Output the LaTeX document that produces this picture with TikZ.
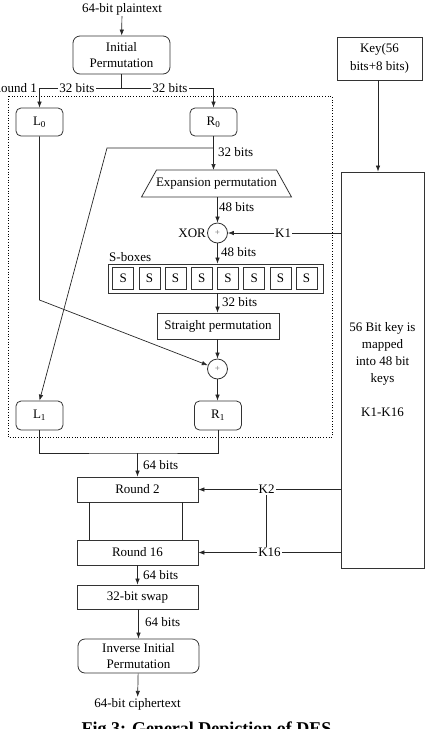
\documentclass[tikz,border=0pt]{standalone}
\usepackage{fontspec}
\setmainfont{Liberation Serif}
\usetikzlibrary{arrows.meta,shapes.geometric}
\begin{document}
\begin{tikzpicture}[x=1pt,y=-1pt,
  every node/.style={font=\fontsize{13}{16}\selectfont, inner sep=1pt},
  ln/.style={line width=0.7pt, draw=black!85},
  arr/.style={ln, -{Latex[length=6pt,width=4.5pt]}},
  rbox/.style={draw=black!80, line width=0.8pt, rounded corners=7pt, align=center, inner sep=0pt},
  sqbox/.style={draw=black!80, line width=0.8pt, align=center, inner sep=0pt},
  lbl/.style={fill=white, inner sep=1pt},
  bitlbl/.style={anchor=west, inner sep=0pt},
  xorc/.style={circle, draw=black!80, line width=0.8pt, minimum size=20pt, inner sep=0pt, font=\fontsize{9}{9}\selectfont, text=black!60},
  ]
\useasboundingbox (0,0) rectangle (429,729);

% top
\node (pt) at (122,9) {64-bit plaintext};
\node[rbox, minimum width=97pt, minimum height=38pt] (ip) at (121.5,55) {Initial\\Permutation};
\node[sqbox, minimum width=85pt, minimum height=43pt, font=\fontsize{13}{18}\selectfont] (key) at (379.5,58.5) {Key(56\\bits+8 bits)};
\draw[arr] (pt) -- (ip);

% round 1 frame
\draw[dotted, line width=0.7pt] (8,96) rectangle (332,437);
\node[anchor=east, inner sep=0pt] (rnd1) at (37,88) {Round 1};

\node[rbox, rounded corners=5pt, minimum width=47pt, minimum height=28pt] (l0) at (39.5,122) {L\textsubscript{0}};
\node[rbox, rounded corners=5pt, minimum width=47pt, minimum height=28pt] (r0) at (213.5,122) {R\textsubscript{0}};
\coordinate (split) at (121.5,88);
\draw[ln] (ip.south) -- (split);
\draw[arr] (split) -| (l0.north);
\draw[arr] (split) -| (r0.north);
\node[lbl] (lb1) at (77,88) {32 bits};
\node[lbl] (lb2) at (170,88) {32 bits};

% right side F-function
\node (exp) at (216.5,183.5) {Expansion permutation};
\draw[draw=black!80, line width=0.8pt] (141.5,197) -- (156.5,170) -- (276.5,170) -- (291.5,197) -- cycle;
\coordinate (exptop) at (213.5,170);
\coordinate (expbot) at (217.5,197);
\draw[arr] (r0.south) -- (exptop);
\node[bitlbl] at (218,152) {32 bits};
\coordinate (tap) at (213.5,148);
\coordinate (bend) at (107,148);

\node[xorc] (x1) at (217.5,233) {+};
\draw[arr] (expbot) -- (x1);
\node[bitlbl] at (219,207) {48 bits};
\node[anchor=east, inner sep=1pt] (xorl) at (x1.west) {XOR};

\node[sqbox, minimum width=215pt, minimum height=29pt] (sb) at (215.5,278.5) {};
\foreach \i in {0,...,7} {
  \node[sqbox, minimum width=21pt, minimum height=22pt] (s\i) at (123.2+26.2*\i,278.5) {S};
}
\node[anchor=base west, inner sep=0pt] (sbl) at (109,261) {S-boxes};
\draw[arr] (x1) -- (x1 |- sb.north);
\node[bitlbl] at (221,252) {48 bits};

\node[sqbox, minimum width=122pt, minimum height=26pt] (sp) at (218,326) {Straight permutation};
\draw[arr] (x1 |- sb.south) -- (x1 |- sp.north);
\node[bitlbl] at (222,302) {32 bits};

\node[xorc] (x2) at (217.5,369) {+};
\draw[arr] (x2 |- sp.south) -- (x2);

\node[rbox, rounded corners=5pt, minimum width=47pt, minimum height=29pt] (l1) at (39.5,415.5) {L\textsubscript{1}};
\node[rbox, rounded corners=5pt, minimum width=47pt, minimum height=29pt] (r1) at (218,415.5) {R\textsubscript{1}};
\draw[arr] (x2) -- (x2 |- r1.north);

\draw[arr] (tap) -- (bend) -- (l1.north);
\coordinate (lbend) at (39.5,300);
\draw[arr] (l0.south) -- (lbend) -- (x2);

% key schedule
\node[sqbox, minimum width=83pt, minimum height=396pt, font=\fontsize{13}{17}\selectfont] (big) at (382.5,370) {56 Bit key is\\mapped\\into 48 bit\\keys\\[17pt]K1-K16};
\coordinate (kx) at (378,0);
\draw[arr] (key.south -| kx) -- (big.north -| kx);
\draw[arr] (big.west |- x1) -- node[lbl, pos=0.51] (k1) {K1} (x1.east);

% merge
\coordinate (m) at (137.5,453);
\draw[ln] (l1.south) |- (m) -| (r1.south);
\node[sqbox, minimum width=121pt, minimum height=25pt] (r2) at (137.5,489.5) {Round 2};
\node[sqbox, minimum width=121pt, minimum height=25pt] (r16) at (137.5,552.5) {Round 16};
\draw[arr] (m) -- (r2.north);
\node[bitlbl] at (143,465) {64 bits};
\draw[ln] ([xshift=-48.5pt]r2.south) -- ([xshift=-48.5pt]r16.north);
\draw[ln] ([xshift=44.5pt]r2.south) -- ([xshift=44.5pt]r16.north);

\draw[arr] (big.west |- r2) -- node[lbl, pos=0.52] (k2) {K2} (r2.east);
\draw[arr] (big.west |- r16) -- node[lbl, pos=0.5] (k16) {K16} (r16.east);
\draw[ln] (k2.south) -- (k2.south |- k16.north);

% output
\node[sqbox, minimum width=121pt, minimum height=24pt] (swap) at (137.5,597) {32-bit swap};
\draw[arr] (r16) -- (swap);
\node[bitlbl] at (143,575) {64 bits};
\node[rbox, minimum width=121pt, minimum height=34pt] (inv) at (138.5,656) {Inverse Initial\\Permutation};
\draw[arr] (swap.south -| inv) -- (inv);
\node[bitlbl] at (145,622) {64 bits};
\node (ct) at (137.5,704) {64-bit ciphertext};
\draw[arr] (inv) -- (ct);

\node[font=\bfseries\fontsize{18}{20}\selectfont, anchor=base, inner sep=0pt] (cap) at (206.5,734) {Fig 3: General Depiction of DES};
\end{tikzpicture}
\end{document}
